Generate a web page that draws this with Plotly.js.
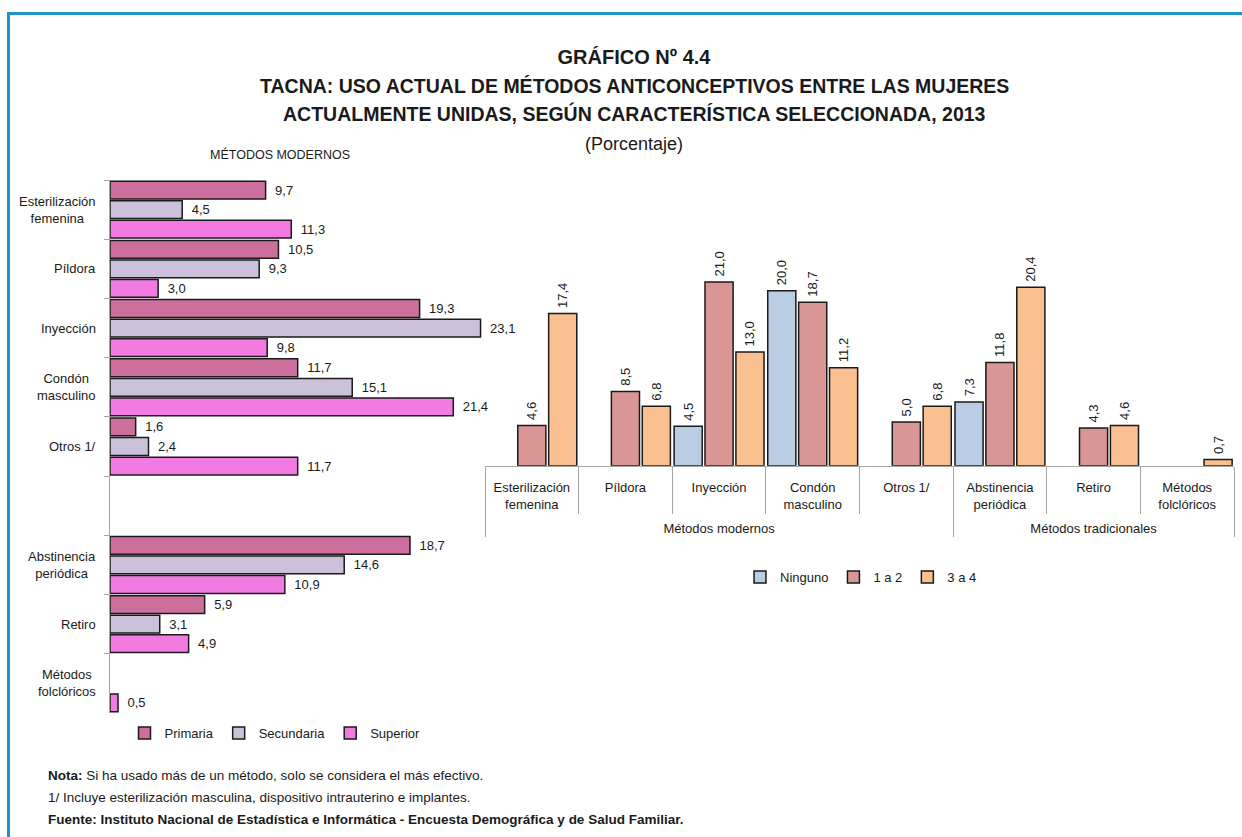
<!DOCTYPE html>
<html>
<head>
<meta charset="utf-8">
<script src="https://cdn.plot.ly/plotly-3.0.1.min.js"></script>
<style>
  html, body { margin: 0; padding: 0; background: #fff; }
  #wrap { position: relative; width: 1242px; height: 837px; overflow: hidden; }
  #chart { position: absolute; left: 0; top: 0; width: 1242px; height: 837px; }
  #frame { position: absolute; left: 7px; top: 12px; width: 1300px; height: 900px;
           border-top: 3px solid #1d93cc; border-left: 3px solid #1d93cc; pointer-events: none; }
</style>
</head>
<body>
<div id="wrap"><div id="chart"></div><div id="frame"></div></div>
<script>
// ---------- DATA ----------
// Left chart: by education level
const leftCategories = ['Esterilización femenina', 'Píldora', 'Inyección', 'Condón masculino', 'Otros 1/', ' ',
                        'Abstinencia periódica', 'Retiro', 'Métodos folclóricos'];
const leftTickLabels = ['Esterilización<br>femenina', 'Píldora', 'Inyección', 'Condón<br>masculino', 'Otros 1/', '',
                        'Abstinencia<br>periódica', 'Retiro', 'Métodos<br>folclóricos'];
const primaria   = [9.7, 10.5, 19.3, 11.7, 1.6, null, 18.7, 5.9, null];
const secundaria = [4.5, 9.3, 23.1, 15.1, 2.4, null, 14.6, 3.1, null];
const superior   = [11.3, 3.0, 9.8, 21.4, 11.7, null, 10.9, 4.9, 0.5];

// Right chart: by number of children
const rightGroups = ['Métodos modernos', 'Métodos modernos', 'Métodos modernos', 'Métodos modernos', 'Métodos modernos',
                     'Métodos tradicionales', 'Métodos tradicionales', 'Métodos tradicionales'];
const rightCategories = ['Esterilización<br>femenina', 'Píldora', 'Inyección', 'Condón<br>masculino', 'Otros 1/',
                         'Abstinencia<br>periódica', 'Retiro', 'Métodos<br>folclóricos'];
const ninguno = [null, null, 4.5, 20.0, null, 7.3, null, null];
const unoADos = [4.6, 8.5, 21.0, 18.7, 5.0, 11.8, 4.3, null];
const tresACuatro = [17.4, 6.8, 13.0, 11.2, 6.8, 20.4, 4.6, 0.7];

const titleLines = [
  'GRÁFICO Nº 4.4',
  'TACNA: USO ACTUAL DE MÉTODOS ANTICONCEPTIVOS ENTRE LAS MUJERES',
  'ACTUALMENTE UNIDAS, SEGÚN CARACTERÍSTICA SELECCIONADA, 2013'
];
const subtitle = '(Porcentaje)';
const leftPanelTitle = 'MÉTODOS MODERNOS';
const noteLines = [
  '<b>Nota:</b> Si ha usado más de un método, solo se considera el más efectivo.',
  '1/ Incluye esterilización masculina, dispositivo intrauterino e implantes.',
  '<b>Fuente: Instituto Nacional de Estadística e Informática - Encuesta Demográfica y de Salud Familiar.</b>'
];

// ---------- STYLE ----------
const FONT = "'Liberation Sans', Arial, sans-serif";
const W = 1242, H = 837;
const px = v => v / W;
const py = v => 1 - v / H;
const OUTLINE = {color: '#1a1a1a', width: 1.5};
const TXT = '#1a1a1a';

function hbar(name, vals, color) {
  return {
    type: 'bar', orientation: 'h', name: name,
    y: leftCategories, x: vals,
    xaxis: 'x', yaxis: 'y', legend: 'legend',
    marker: {color: color, line: OUTLINE},
    texttemplate: '\u2002%{x:.1f}', textposition: 'outside', constraintext: 'none',
    textfont: {family: FONT, size: 13, color: TXT},
    cliponaxis: false, hoverinfo: 'skip'
  };
}
function vbar(name, vals, color) {
  return {
    type: 'bar', name: name,
    x: [rightGroups.map(g => '<br>' + g), rightCategories], y: vals,
    xaxis: 'x2', yaxis: 'y2', legend: 'legend2',
    marker: {color: color, line: OUTLINE},
    texttemplate: '\u2009%{y:.1f}', textposition: 'outside', textangle: -90, constraintext: 'none',
    textfont: {family: FONT, size: 13, color: TXT},
    cliponaxis: false, hoverinfo: 'skip'
  };
}

const data = [
  hbar('Primaria', primaria, '#cc6f9c'),
  hbar('Secundaria', secundaria, '#ccc1db'),
  hbar('Superior', superior, '#f27be2'),
  vbar('Ninguno', ninguno, '#b9cde5'),
  vbar('1 a 2', unoADos, '#d99694'),
  vbar('3 a 4', tresACuatro, '#fac090')
];

const annotations = [];
leftCategories.forEach((c, i) => {
  if (leftTickLabels[i]) {
    annotations.push({text: leftTickLabels[i], xref: 'paper', x: px(97), xanchor: 'right',
      yref: 'y', y: c, yanchor: 'middle', align: 'center', showarrow: false, borderpad: 0,
      font: {family: FONT, size: 13, color: TXT}});
  }
});
[86, 113].forEach((yy, i) => {
  annotations.push({text: '<b>' + titleLines[i + 1] + '</b>', xref: 'paper', yref: 'paper', x: px(634), y: py(yy),
    xanchor: 'center', yanchor: 'middle', showarrow: false, font: {family: FONT, size: 19.5, color: TXT}});
});
annotations.push({text: leftPanelTitle, xref: 'paper', yref: 'paper', x: px(280), y: py(155),
  xanchor: 'center', yanchor: 'middle', showarrow: false, font: {family: FONT, size: 12.5, color: TXT}});
annotations.push({text: subtitle, xref: 'paper', yref: 'paper', x: px(634), y: py(144),
  xanchor: 'center', yanchor: 'middle', showarrow: false, font: {family: FONT, size: 18, color: TXT}});
noteLines.forEach((t, i) => {
  annotations.push({text: t, xref: 'paper', yref: 'paper', x: px(46), y: py(775 + 22 * i),
    xanchor: 'left', yanchor: 'middle', showarrow: false, align: 'left',
    font: {family: FONT, size: 13.5, color: TXT}});
});

const layout = {
  width: W, height: H,
  margin: {l: 0, r: 0, t: 0, b: 0, pad: 0},
  paper_bgcolor: '#ffffff', plot_bgcolor: 'rgba(0,0,0,0)',
  separators: ',.',
  font: {family: FONT, size: 13, color: TXT},
  showlegend: true,
  barmode: 'group', bargap: 0.01, bargroupgap: 0.09,
  title: {
    text: '<b>' + titleLines[0] + '</b>',
    x: px(634), xanchor: 'center', xref: 'paper',
    y: py(57), yanchor: 'middle', yref: 'container',
    font: {family: FONT, size: 20, color: TXT}
  },
  xaxis: {
    domain: [px(110), px(495)], range: [0, 24], anchor: 'y',
    showgrid: false, zeroline: false, showline: false, showticklabels: false, ticks: ''
  },
  yaxis: {
    domain: [py(713), py(180)], anchor: 'x',
    type: 'category', categoryorder: 'array', categoryarray: leftCategories,
    autorange: 'reversed',
    showgrid: false, zeroline: false, showline: true, linecolor: '#a6a6a6', linewidth: 1,
    ticks: 'outside', tickson: 'boundaries', ticklen: 5, tickcolor: '#a6a6a6',
    showticklabels: false
  },
  xaxis2: {
    domain: [px(485), px(1234)], anchor: 'y2', type: 'multicategory',
    showgrid: false, zeroline: false, showline: true, linecolor: '#a6a6a6', linewidth: 1,
    ticks: 'outside', ticklen: 47, tickcolor: '#a6a6a6', tickwidth: 1,
    showdividers: true, dividercolor: '#a6a6a6', dividerwidth: 1,
    ticklabelstandoff: 10,
    tickfont: {family: FONT, size: 13, color: TXT}
  },
  yaxis2: {
    domain: [py(465.7), py(255.9)], anchor: 'x2', range: [0, 24],
    showgrid: false, zeroline: false, showline: false, showticklabels: false, ticks: ''
  },
  legend: {
    orientation: 'h', x: px(275), xanchor: 'center', y: py(733), yanchor: 'middle',
    font: {family: FONT, size: 13, color: TXT}, itemwidth: 30, traceorder: 'normal',
    bgcolor: 'rgba(0,0,0,0)', itemclick: false
  },
  legend2: {
    orientation: 'h', x: px(861), xanchor: 'center', y: py(577), yanchor: 'middle',
    font: {family: FONT, size: 13, color: TXT}, itemwidth: 30, traceorder: 'normal',
    bgcolor: 'rgba(0,0,0,0)', itemclick: false
  },
  annotations: annotations
};

Plotly.newPlot('chart', data, layout, {staticPlot: true, displayModeBar: false});
</script>
</body>
</html>
